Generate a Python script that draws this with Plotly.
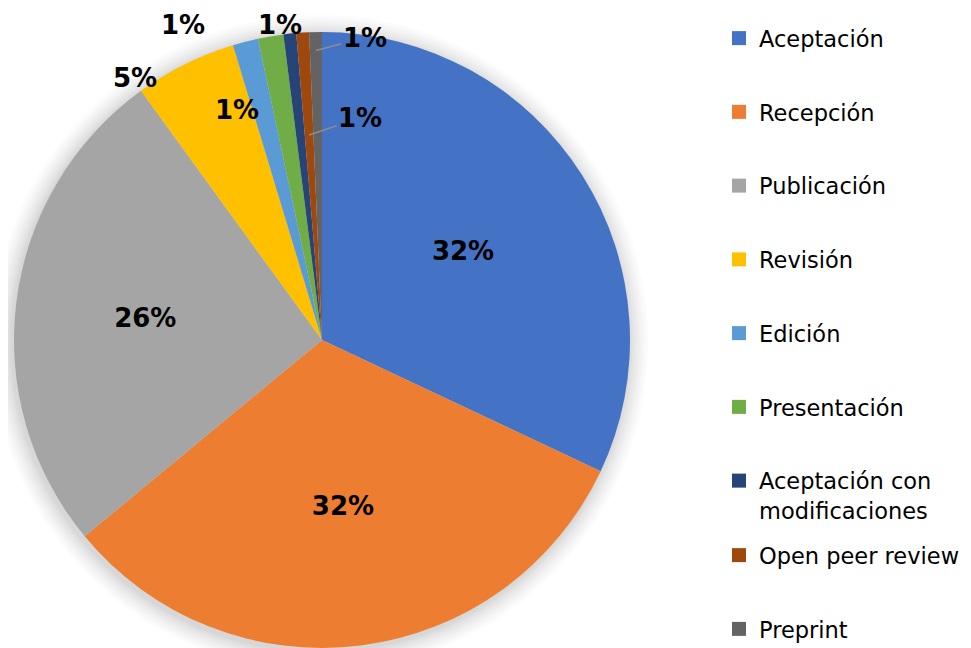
import math
import plotly.graph_objects as go

categories = ["Aceptación", "Recepción", "Publicación", "Revisión", "Edición",
              "Presentación", "Aceptación con modificaciones", "Open peer review", "Preprint"]
legend_labels = ["Aceptación", "Recepción", "Publicación", "Revisión", "Edición",
                 "Presentación", "Aceptación con<br>modificaciones", "Open peer review", "Preprint"]
counts = [48, 48, 39, 8, 2, 2, 1, 1, 1]
colors = ["#4472C4", "#ED7D31", "#A5A5A5", "#FFC000", "#5B9BD5",
          "#70AD47", "#264478", "#9E480E", "#636363"]
text_pos = ["inside", "inside", "inside", "none", "none",
            "none", "none", "none", "none"]

# placement style for the small-slice labels (radius factor of anchor, pixel offset, leader line)
label_style = {
    3: dict(rf=1.0, dx=-50, dy=14, leader=False),
    4: dict(rf=1.0, dx=-62, dy=-17, leader=False),
    5: dict(rf=1.0, dx=9, dy=-11, leader=False),
    6: dict(rf=1.0, dx=-53, dy=76, leader=False),
    7: dict(rf=0.667, dx=51, dy=-17, leader=True),
    8: dict(rf=0.94, dx=49, dy=-13, leader=True),
}

W, H = 971, 648
OFF = 8               # page body margin in the browser
R = 308
CX, CY = 322 - OFF, 340 - OFF
FONT = "DejaVu Sans"

fig = go.Figure()

# soft shadow around the pie
for dr in [1.5, 3, 4.5, 6, 8, 10, 12, 14.5, 17, 20]:
    sx, sy = CX - 2, CY + 3
    fig.add_shape(type="circle", xref="paper", yref="paper", layer="below",
                  x0=(sx - R - dr) / W, x1=(sx + R + dr) / W,
                  y0=1 - (sy + R + dr) / H, y1=1 - (sy - R - dr) / H,
                  fillcolor="rgba(0,0,0,0.017)", line=dict(width=0))

fig.add_trace(go.Pie(
    labels=categories, values=counts, sort=False, direction="clockwise", rotation=0,
    marker=dict(colors=colors, line=dict(width=0)),
    texttemplate="%{percent:.0%}", textposition=text_pos,
    insidetextorientation="horizontal", automargin=False,
    textfont=dict(family=FONT, size=26, color="black", weight="bold"),
    domain=dict(x=[(CX - R) / W, (CX + R) / W], y=[max(0, H - CY - R) / H, (H - CY + R) / H]),
    showlegend=False, hoverinfo="label+percent",
))

total = sum(counts)
cum = 0
for i, v in enumerate(counts):
    mid = (cum + v / 2) / total * 2 * math.pi
    cum += v
    if i not in label_style:
        continue
    st = label_style[i]
    px = CX + st["rf"] * R * math.sin(mid)
    py = CY - st["rf"] * R * math.cos(mid)
    txt = f"{round(100 * v / total)}%"
    font = dict(family=FONT, size=26, color="black", weight="bold")
    if st["leader"]:
        fig.add_annotation(x=px / W, y=1 - py / H, xref="paper", yref="paper",
                           text=txt, showarrow=True, ax=st["dx"], ay=st["dy"],
                           xanchor="center", yanchor="middle",
                           arrowhead=0, arrowwidth=1.5, arrowcolor="#8c8c8c", standoff=0,
                           font=font)
    else:
        fig.add_annotation(x=px / W, y=1 - py / H, xref="paper", yref="paper",
                           text=txt, showarrow=False, xshift=st["dx"], yshift=-st["dy"],
                           xanchor="center", yanchor="middle", font=font)

for i, (lab, col) in enumerate(zip(legend_labels, colors)):
    fig.add_trace(go.Scatter(
        x=[None], y=[None], mode="markers", name=lab,
        marker=dict(symbol="square", size=14, color=col),
        legendgroup=f"g{i}", legend="legend" if i < 7 else "legend2",
        hoverinfo="skip",
    ))

legend_common = dict(
    font=dict(family=FONT, size=22.5, color="#000000"),
    xanchor="left", yanchor="top", valign="top",
    tracegroupgap=41.5, bgcolor="rgba(0,0,0,0)", itemclick=False,
)
fig.update_layout(
    width=W, height=H, margin=dict(l=0, r=0, t=0, b=0, autoexpand=False),
    paper_bgcolor="white", plot_bgcolor="white",
    xaxis=dict(visible=False), yaxis=dict(visible=False),
    legend=dict(x=711 / W, y=1 - 9 / H, **legend_common),
    legend2=dict(x=711 / W, y=1 - 526 / H, **legend_common),
)
fig.write_html("out.html")
